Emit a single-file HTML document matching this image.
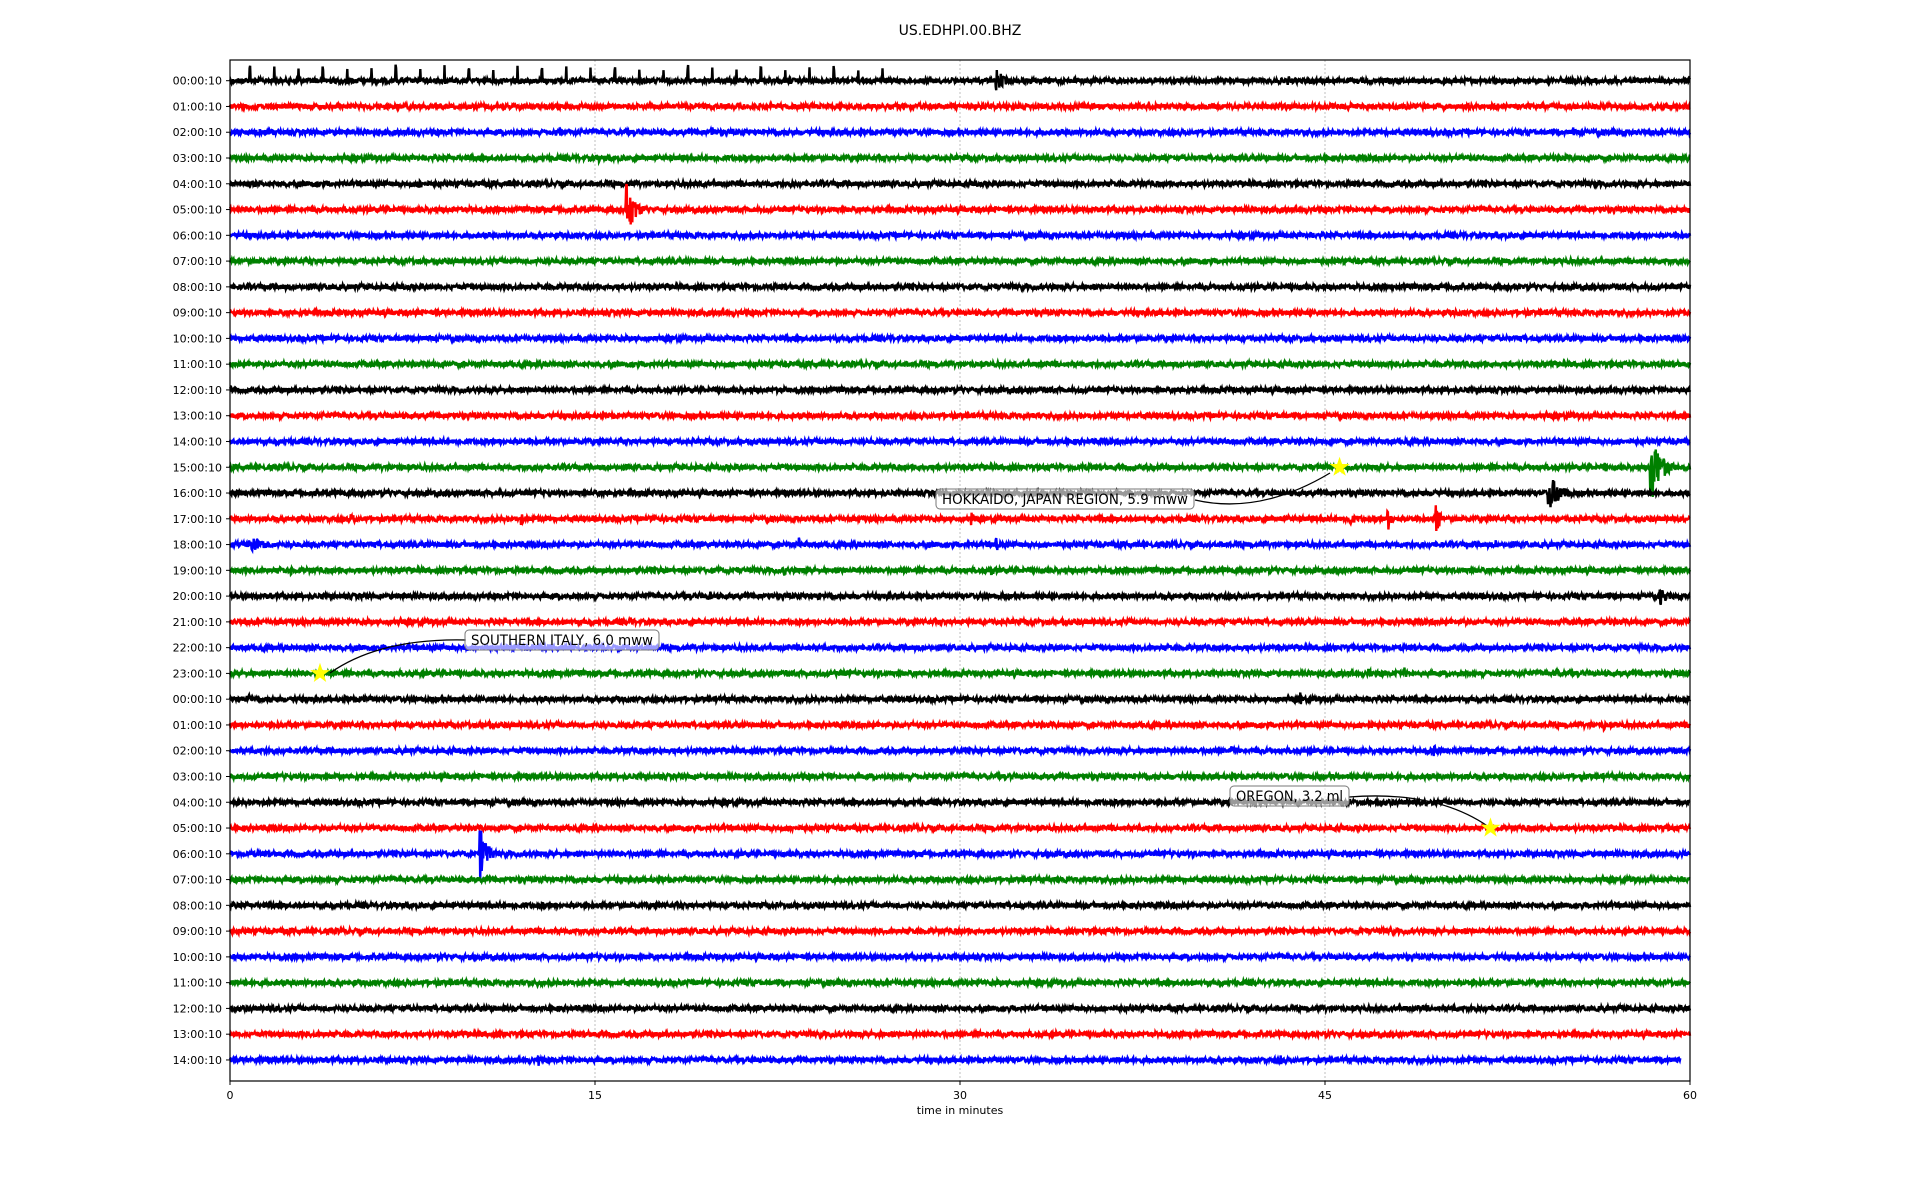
<!DOCTYPE html>
<html><head><meta charset="utf-8"><style>
html,body{margin:0;padding:0;background:#fff;}
svg{display:block;font-family:"DejaVu Sans","Liberation Sans",sans-serif;}
</style></head><body>
<svg id="s" width="1920" height="1200" viewBox="0 0 1920 1200" xmlns="http://www.w3.org/2000/svg">
<rect width="1920" height="1200" fill="#fff"/>
<text x="960" y="35" font-size="14" text-anchor="middle">US.EDHPI.00.BHZ</text>
<g id="grid" stroke="#b0b0b0" stroke-width="0.8" stroke-dasharray="2,2">
<line x1="595" y1="60" x2="595" y2="1081"/><line x1="960" y1="60" x2="960" y2="1081"/><line x1="1325" y1="60" x2="1325" y2="1081"/>
</g>
<g id="traces"></g>
<g id="ann"></g>
<rect x="230" y="60" width="1460" height="1021" fill="none" stroke="#000" stroke-width="1.2"/>
<g id="ax" font-size="11"></g>
<text x="960" y="1114" font-size="11" text-anchor="middle">time in minutes</text>
</svg>
<script>
var NS="http://www.w3.org/2000/svg";
var seed=12345;function rnd(){seed=(seed*1103515245+12345)%2147483648;return seed/2147483648;}
var X0=230,X1=1690,Y0=80.7,DY=25.77;
function mx(m){return X0+m*(X1-X0)/60;}
var colors=["#000","#f00","#00f","#008000"];
var hours=[];for(var i=0;i<39;i++){var h=i%24;hours.push((h<10?"0":"")+h+":00:10");}
var ev={0:[[31.5,12,1.0],[43.5,5,0.2]],2:[[19.8,8,0.3],[13.6,6,0.1],[55.2,5,0.2]],3:[[15.2,4,0.4]],4:[[7.8,7,0.3],[11.5,6,0.2]],5:[[16.3,28,1.0]],
15:[[58.4,36,1.2],[56.5,6,0.3]],16:[[54.2,18,1.6],[49.5,6,0.3]],17:[[46,10,0.6],[47.6,12,0.5],[49.6,14,0.5],[30.5,7,0.4],[17.5,7,0.2],[12,7,0.2],[5,5,1]],
18:[[0.8,10,2],[23.4,7,0.3],[31.5,7,0.6],[52,5,0.3]],19:[[2.5,5,0.3],[22.8,6,0.2],[31.3,6,0.4],[45.6,5,0.3]],20:[[19.7,6,0.4],[24.2,5,0.1],[58.8,9,1]],
21:[[16.5,5,0.5]],22:[[23.8,4,0.2]],23:[[46.8,5,0.6],[48.3,6,0.2],[54.5,5,0.6]],24:[[0.8,8,0.2],[5.5,6,0.4],[44,7,0.2]],25:[[46.8,6,0.7],[56.5,5,0.2]],
26:[[41.2,5,0.1],[49.5,7,0.1]],30:[[10.3,28,0.8]],38:[[12.7,6,0.2],[43.2,5,0.2]]};
var g=document.getElementById("traces"),ax=document.getElementById("ax");
for(var r=0;r<39;r++){
 var y=Y0+r*DY,end=(r==38)?59.6:60,d="";
 var e=ev[r]||[];
 var N=2900;
 for(var k=0;k<=N;k++){
  var m=end*k/N,x=mx(m),a=2.3;
  for(var j=0;j<e.length;j++){var dm=m-e[j][0];if(dm>-0.05&&dm<e[j][2]){var f=dm<0?1:Math.exp(-3*dm/e[j][2]);a=Math.max(a,e[j][1]*f);}}
  var v=(rnd()*2-1)*a;
  if(r==0&&m<27){var sp=(m-0.8)%1.0;if(sp>0&&sp<0.03)v=-(10+rnd()*6);}
  d+=(k?"L":"M")+x.toFixed(1)+" "+(y+v).toFixed(1);
 }
 var p=document.createElementNS(NS,"path");p.setAttribute("d",d);p.setAttribute("fill","none");p.setAttribute("stroke",colors[r%4]);p.setAttribute("stroke-width","2.4");g.appendChild(p);
 var t=document.createElementNS(NS,"text");t.setAttribute("x",X0-8);t.setAttribute("y",y+4);t.setAttribute("text-anchor","end");t.textContent=hours[r];ax.appendChild(t);
 var l=document.createElementNS(NS,"line");l.setAttribute("x1",X0-4);l.setAttribute("x2",X0);l.setAttribute("y1",y);l.setAttribute("y2",y);l.setAttribute("stroke","#000");ax.appendChild(l);
}
[0,15,30,45,60].forEach(function(m){var x=mx(m);
 var l=document.createElementNS(NS,"line");l.setAttribute("x1",x);l.setAttribute("x2",x);l.setAttribute("y1",1081);l.setAttribute("y2",1085);l.setAttribute("stroke","#000");ax.appendChild(l);
 var t=document.createElementNS(NS,"text");t.setAttribute("x",x);t.setAttribute("y",1099);t.setAttribute("text-anchor","middle");t.textContent=m;ax.appendChild(t);});
function star(cx,cy){var s="";for(var i=0;i<10;i++){var rr=i%2?3.5:9,an=-Math.PI/2+i*Math.PI/5;s+=(cx+rr*Math.cos(an)).toFixed(1)+","+(cy+rr*Math.sin(an)).toFixed(1)+" ";}return '<polygon points="'+s+'" fill="#ff0" stroke="#ff0"/>';}
var A=document.getElementById("ann");
A.innerHTML=
'<path d="M1330 473 Q1260 515 1195 500" fill="none" stroke="#000" stroke-width="1.3"/>'+
'<path d="M330 673 Q380 638 466 640" fill="none" stroke="#000" stroke-width="1.3"/>'+
'<path d="M1493 830 Q1440 790 1349 797" fill="none" stroke="#000" stroke-width="1.3"/>'+
star(mx(45.6),Y0+15*DY)+star(mx(3.7),Y0+23*DY)+star(mx(51.8),Y0+29*DY)+
'<rect x="936" y="489" width="258" height="20" rx="4" fill="#fff" fill-opacity="0.6" stroke="#777"/>'+
'<text x="942" y="504" font-size="14" textLength="246" lengthAdjust="spacingAndGlyphs">HOKKAIDO, JAPAN REGION, 5.9 mww</text>'+
'<rect x="465" y="630" width="194" height="20" rx="4" fill="#fff" fill-opacity="0.6" stroke="#777"/>'+
'<text x="471" y="645" font-size="14" textLength="182" lengthAdjust="spacingAndGlyphs">SOUTHERN ITALY, 6.0 mww</text>'+
'<rect x="1230" y="786" width="119" height="20" rx="4" fill="#fff" fill-opacity="0.6" stroke="#777"/>'+
'<text x="1236" y="801" font-size="14" textLength="107" lengthAdjust="spacingAndGlyphs">OREGON, 3.2 ml</text>';
</script>
</body></html>
